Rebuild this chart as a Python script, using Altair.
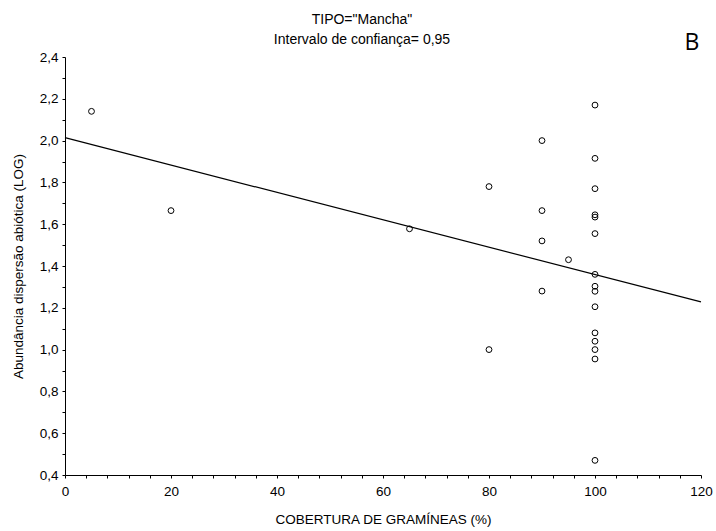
import altair as alt
import pandas as pd

# Data
cover = [5, 20, 65, 80, 80, 90, 90, 90, 90, 95,
         100, 100, 100, 100, 100, 100, 100, 100, 100, 100, 100, 100, 100, 100, 100]
abund = [2.14, 1.665, 1.578, 1.78, 1.0, 2.0, 1.665, 1.52, 1.28, 1.43,
         2.17, 1.915, 1.77, 1.645, 1.634, 1.555, 1.36, 1.303, 1.279, 1.205, 1.08, 1.04, 1.0, 0.955, 0.47]

fit_x = [0, 120]
fit_y = [2.014, 1.228]

x_ticks = list(range(0, 121, 4))
y_ticks = [round(0.4 + 0.1 * i, 1) for i in range(21)]

title_lines = ['TIPO="Mancha"', "Intervalo de confiança= 0,95"]
x_title = "COBERTURA DE GRAMÍNEAS (%)"
y_title = "Abundância dispersão abiótica (LOG)"
panel_label = ["B"]

pts = pd.DataFrame({"cover": cover, "abund": abund})
fit = pd.DataFrame({"cover": fit_x, "abund": fit_y})

FONT = "Liberation Sans"

x_enc = alt.X(
    "cover:Q",
    scale=alt.Scale(domain=[0, 120], nice=False, zero=False),
    axis=alt.Axis(
        values=x_ticks,
        labelExpr="datum.value % 20 === 0 ? datum.label : ''",
        title=x_title,
        grid=False,
        tickSize=3,
        labelPadding=6,
        titleY=44,
        titleBaseline="middle",
        labelFlush=False,
    ),
)
y_enc = alt.Y(
    "abund:Q",
    scale=alt.Scale(domain=[0.4, 2.4], nice=False, zero=False),
    axis=alt.Axis(
        values=y_ticks,
        labelExpr="round(datum.value*10) % 2 === 0 ? replace(format(datum.value, '.1f'), '.', ',') : ''",
        title=y_title,
        grid=False,
        tickSize=3,
        labelPadding=4,
        titleX=-47,
        titleBaseline="middle",
        labelFlush=False,
    ),
)

line = alt.Chart(fit).mark_line(color="black", strokeWidth=1.2).encode(x=x_enc, y=y_enc)
points = alt.Chart(pts).mark_point(
    shape="circle", filled=False, color="black", size=34, strokeWidth=1, opacity=1
).encode(x=x_enc, y=y_enc)

label = alt.Chart(pd.DataFrame({"t": panel_label})).mark_text(
    font="Open Sans", fontSize=23, color="black", align="center", baseline="middle"
).encode(x=alt.value(627), y=alt.value(-14), text="t:N")

title1 = alt.Chart(pd.DataFrame({"t": [title_lines[0]]})).mark_text(
    font=FONT, fontSize=14, color="black", align="center", baseline="middle"
).encode(x=alt.value(297), y=alt.value(-37), text="t:N")

title2 = alt.Chart(pd.DataFrame({"t": [title_lines[1]]})).mark_text(
    font=FONT, fontSize=14, color="black", align="center", baseline="middle"
).encode(x=alt.value(297), y=alt.value(-17), text="t:N")

chart = (
    alt.layer(line, points, label, title1, title2)
    .properties(
        width=636,
        height=418,
        autosize=alt.AutoSizeParams(type="none"),
        padding={"left": 65, "top": 57, "right": 15, "bottom": 56},
    )
    .configure_view(stroke=None)
    .configure_axis(
        domainColor="black",
        tickColor="black",
        labelColor="black",
        titleColor="black",
        labelFont=FONT,
        titleFont=FONT,
        labelFontSize=13.5,
        titleFontSize=13.5,
        titleFontWeight="normal",
        domainWidth=1,
        tickWidth=1,
    )
)

chart.save("out.html", embed_options={"renderer": "svg", "actions": False})
